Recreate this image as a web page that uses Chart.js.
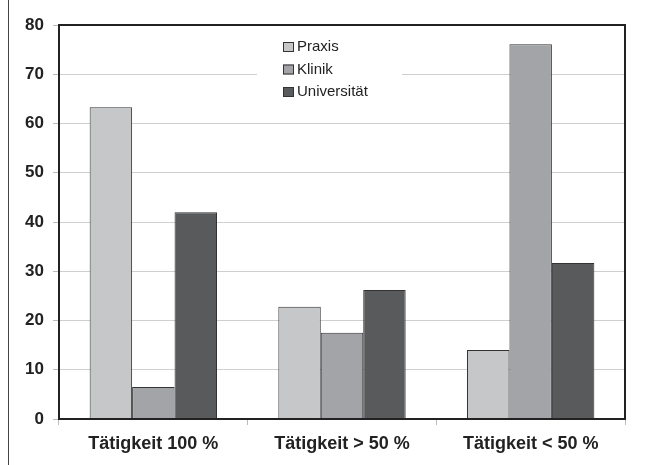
<!DOCTYPE html>
<html>
<head>
<meta charset="utf-8">
<script src="https://cdn.jsdelivr.net/npm/chart.js@4/dist/chart.umd.min.js"></script>
<style>
html,body{margin:0;padding:0;background:#fff;}
#wrap{position:relative;width:646px;height:465px;}
</style>
</head>
<body>
<div id="wrap"><canvas id="c" width="646" height="465"></canvas></div>
<script>
const categories = ['Tätigkeit 100 %', 'Tätigkeit > 50 %', 'Tätigkeit < 50 %'];
const seriesNames = ['Praxis', 'Klinik', 'Universität'];
const praxis = [63.3, 22.8, 14.0];
const klinik = [6.5, 17.5, 76.1];
const universitaet = [42.0, 26.2, 31.7];
const yTicks = [0, 10, 20, 30, 40, 50, 60, 70, 80];
const colors = ['#c6c7c9', '#a3a4a7', '#595a5c'];

const FONT = '"Liberation Sans", Arial, sans-serif';

const framePlugin = {
  id: 'frame',
  beforeDraw(chart) {
    const ctx = chart.ctx;
    ctx.save();
    ctx.fillStyle = '#fff';
    ctx.fillRect(0, 0, chart.width, chart.height);
    ctx.restore();
  },
  beforeDatasetsDraw(chart) {
    const ctx = chart.ctx;
    ctx.save();
    ctx.fillStyle = '#fff';
    ctx.fillRect(257, 30, 145, 70);
    ctx.restore();
  },
  afterDraw(chart) {
    const ctx = chart.ctx;
    const a = chart.chartArea;
    ctx.save();
    ctx.strokeStyle = '#222';
    ctx.lineWidth = 2;
    ctx.strokeRect(a.left, a.top, a.right - a.left, a.bottom - a.top);
    ctx.strokeStyle = '#444';
    ctx.lineWidth = 1;
    ctx.beginPath();
    ctx.moveTo(8.5, 0);
    ctx.lineTo(8.5, chart.height);
    ctx.stroke();
    // legend
    const x0 = 283, y0 = 47, step = 22.5;
    ctx.font = '15px ' + FONT;
    ctx.textBaseline = 'middle';
    chart.data.datasets.forEach((ds, i) => {
      const y = y0 + i * step;
      ctx.fillStyle = ds.backgroundColor;
      ctx.fillRect(x0, y - 5, 11, 10);
      ctx.strokeStyle = '#333';
      ctx.lineWidth = 1;
      ctx.strokeRect(x0 + 0.5, y - 4.5, 10, 9);
      ctx.fillStyle = '#222';
      ctx.fillText(ds.label, x0 + 14, y);
    });
    ctx.restore();
  }
};

new Chart(document.getElementById('c'), {
  type: 'bar',
  data: {
    labels: categories,
    datasets: [
      { label: seriesNames[0], data: praxis, backgroundColor: colors[0] },
      { label: seriesNames[1], data: klinik, backgroundColor: colors[1] },
      { label: seriesNames[2], data: universitaet, backgroundColor: colors[2] }
    ].map(d => Object.assign(d, { borderColor: '#333', borderWidth: 1, categoryPercentage: 0.675, barPercentage: 1.0 }))
  },
  options: {
    responsive: false,
    animation: false,
    devicePixelRatio: 1,
    layout: { padding: { left: 0, top: 25, right: 21, bottom: 0 } },
    plugins: { legend: { display: false }, tooltip: { enabled: false }, title: { display: false } },
    scales: {
      x: {
        offset: true,
        grid: { display: true, drawOnChartArea: false, drawTicks: true, tickLength: 6, tickColor: '#bbb', offset: true },
        border: { display: false },
        ticks: { color: '#222', padding: 8, font: { family: FONT, size: 18, weight: 'bold' } },
        afterFit(s) { s.height = 46; }
      },
      y: {
        min: 0, max: 80,
        afterBuildTicks(s) { s.ticks = yTicks.map(v => ({ value: v })); },
        grid: { color: '#cfcfcf', lineWidth: 1, drawTicks: true, tickLength: 6, tickColor: '#bbb' },
        border: { display: false },
        ticks: { color: '#222', padding: 9, font: { family: FONT, size: 17, weight: 'bold' } },
        afterFit(s) { s.width = 59; }
      }
    }
  },
  plugins: [framePlugin]
});
</script>
</body>
</html>
